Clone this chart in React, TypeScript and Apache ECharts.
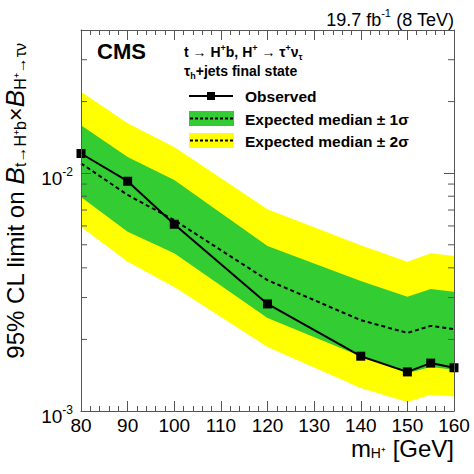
import React, { useEffect, useRef } from 'react';
import * as echarts from 'echarts';

const masses = [80, 90, 100, 120, 140, 150, 155, 160];
const observed = [0.0121, 0.00925, 0.0061, 0.00282, 0.0017, 0.00146, 0.00159, 0.00152];
const expected = [0.011, 0.0081, 0.00635, 0.00355, 0.00241, 0.00213, 0.00228, 0.00221];
const plus1 = [0.0159, 0.0117, 0.00935, 0.00494, 0.00352, 0.00302, 0.00326, 0.00317];
const minus1 = [0.00795, 0.00567, 0.00461, 0.00246, 0.0017, 0.00144, 0.00153, 0.00149];
const plus2 = [0.022, 0.0162, 0.0129, 0.00706, 0.00498, 0.00424, 0.00461, 0.00448];
const minus2 = [0.00595, 0.00424, 0.00332, 0.00186, 0.00125, 0.00109, 0.00117, 0.00115];
const yMinorTicks = [0.002, 0.003, 0.004, 0.005, 0.006, 0.007, 0.008, 0.009, 0.02, 0.03];

const FONT = '"Liberation Sans", Arial, Helvetica, sans-serif';
const GREEN = '#33cc33';
const YELLOW = '#ffff00';
const AXIS = '#555555';

function bandSeries(upper: number[], lower: number[], color: string, z: number) {
  return {
    type: 'custom',
    z,
    silent: true,
    clip: true,
    data: [[masses[0], upper[0]]],
    renderItem: (params: any, api: any) => {
      if (params.dataIndex !== 0) return null;
      const up = masses.map((m, i) => api.coord([m, upper[i]]));
      const lo = masses.map((m, i) => api.coord([m, lower[i]])).reverse();
      return { type: 'polygon', shape: { points: [...up, ...lo] }, style: { fill: color, stroke: null } };
    },
  };
}

export default function App() {
  const ref = useRef<HTMLDivElement>(null);
  useEffect(() => {
    if (!ref.current) return;
    const chart = echarts.init(ref.current, undefined, { renderer: 'svg' });
    const xAxisBase = {
      type: 'value',
      min: 80,
      max: 160,
      interval: 10,
      z: 10,
      axisLine: { show: true, onZero: false, lineStyle: { color: AXIS, width: 1 } },
      axisTick: { show: true, inside: true, length: 10, lineStyle: { color: AXIS } },
      minorTick: { show: true, splitNumber: 5, length: 5, lineStyle: { color: AXIS } },
      splitLine: { show: false },
      minorSplitLine: { show: false },
    };
    const yAxisBase = {
      type: 'log',
      logBase: 10,
      min: 0.001,
      max: 0.04,
      z: 10,
      axisLine: { show: true, onZero: false, lineStyle: { color: AXIS, width: 1 } },
      axisTick: { show: true, inside: true, length: 10, lineStyle: { color: AXIS } },
      splitLine: { show: false },
      minorTick: { show: false },
    };
    const option: any = {
      animation: false,
      backgroundColor: '#ffffff',
      grid: { left: 81, right: 20, top: 30, bottom: 63, containLabel: false },
      xAxis: [
        {
          ...xAxisBase,
          position: 'bottom',
          axisLabel: { show: true, fontSize: 19, lineHeight: 19, color: '#000', fontFamily: FONT, margin: 5 },
        },
        { ...xAxisBase, position: 'top', axisLabel: { show: false } },
      ],
      yAxis: [
        {
          ...yAxisBase,
          position: 'left',
          axisLabel: {
            show: true,
            showMaxLabel: false,
            margin: 8,
            padding: [8, 0, 0, 0],
            formatter: (v: number) => {
              const l = Math.log10(v);
              const e = Math.round(l);
              if (Math.abs(l - e) > 1e-6) return '';
              return `{b|10}{s|${e}}`;
            },
            rich: {
              b: { fontSize: 19, fontFamily: FONT, color: '#000', lineHeight: 22, verticalAlign: 'bottom' },
              s: { fontSize: 12, fontFamily: FONT, color: '#000', lineHeight: 12, verticalAlign: 'top' },
            },
          },
        },
        { ...yAxisBase, position: 'right', axisLabel: { show: false } },
      ],
      series: [
        bandSeries(plus2, minus2, YELLOW, 1),
        bandSeries(plus1, minus1, GREEN, 2),
        {
          type: 'line',
          z: 3,
          silent: true,
          symbol: 'none',
          data: masses.map((m, i) => [m, expected[i]]),
          lineStyle: { color: '#000', width: 2, type: [4, 3] },
        },
        {
          type: 'line',
          z: 4,
          silent: true,
          symbol: 'rect',
          symbolSize: 9,
          data: masses.map((m, i) => [m, observed[i]]),
          itemStyle: { color: '#000' },
          lineStyle: { color: '#000', width: 2 },
        },
        {
          type: 'custom',
          z: 11,
          silent: true,
          clip: false,
          data: [[80, 0.01]],
          renderItem: (params: any, api: any) => {
            if (params.dataIndex !== 0) return null;
            const cs = params.coordSys;
            const children: any[] = [];
            yMinorTicks.forEach((v) => {
              const y = api.coord([80, v])[1];
              children.push({ type: 'line', shape: { x1: cs.x, y1: y, x2: cs.x + 6, y2: y }, style: { stroke: AXIS, lineWidth: 1 } });
              children.push({ type: 'line', shape: { x1: cs.x + cs.width - 6, y1: y, x2: cs.x + cs.width, y2: y }, style: { stroke: AXIS, lineWidth: 1 } });
            });
            return { type: 'group', children };
          },
        },
      ],
      graphic: [
        {
          type: 'text',
          x: 454,
          y: 18,
          style: {
            text: '{a|19.7 fb}{p|-1}{a| (8 TeV)}',
            align: 'right',
            verticalAlign: 'middle',
            rich: {
              a: { fontSize: 18, fontFamily: FONT, fill: '#000', lineHeight: 22, verticalAlign: 'bottom' },
              p: { fontSize: 11, fontFamily: FONT, fill: '#000', lineHeight: 11, verticalAlign: 'top' },
            },
          },
        },
        {
          type: 'text',
          x: 97,
          y: 51,
          style: { text: 'CMS', fontSize: 22, fontWeight: 'bold', fontFamily: FONT, fill: '#000', align: 'left', verticalAlign: 'middle' },
        },
        {
          type: 'text',
          x: 184,
          y: 52,
          style: {
            text: '{a|t → H}{p|+}{a|b, H}{p|+}{a| → τ}{p|+}{a|ν}{s|τ}',
            align: 'left',
            verticalAlign: 'middle',
            rich: {
              a: { fontSize: 14, fontWeight: 'bold', fontFamily: FONT, fill: '#000', lineHeight: 18, verticalAlign: 'middle' },
              p: { fontSize: 9, fontWeight: 'bold', fontFamily: FONT, fill: '#000', lineHeight: 9, verticalAlign: 'top' },
              s: { fontSize: 9, fontWeight: 'bold', fontFamily: FONT, fill: '#000', lineHeight: 9, verticalAlign: 'bottom' },
            },
          },
        },
        {
          type: 'text',
          x: 184,
          y: 71,
          style: {
            text: '{a|τ}{s|h}{a|+jets final state}',
            align: 'left',
            verticalAlign: 'middle',
            rich: {
              a: { fontSize: 14, fontWeight: 'bold', fontFamily: FONT, fill: '#000', lineHeight: 18, verticalAlign: 'middle' },
              s: { fontSize: 9, fontWeight: 'bold', fontFamily: FONT, fill: '#000', lineHeight: 9, verticalAlign: 'bottom' },
            },
          },
        },
        // legend: observed
        { type: 'line', shape: { x1: 189, y1: 96, x2: 233, y2: 96 }, style: { stroke: '#000', lineWidth: 2 } },
        { type: 'rect', shape: { x: 207, y: 92, width: 8, height: 8 }, style: { fill: '#000' } },
        {
          type: 'text', x: 245, y: 96,
          style: { text: 'Observed', fontSize: 15.5, fontWeight: 'bold', fontFamily: FONT, fill: '#000', align: 'left', verticalAlign: 'middle' },
        },
        // legend: 1 sigma
        { type: 'rect', shape: { x: 189, y: 111, width: 45, height: 15 }, style: { fill: GREEN } },
        { type: 'line', shape: { x1: 190, y1: 118.5, x2: 233, y2: 118.5 }, style: { stroke: '#000', lineWidth: 2, lineDash: [3, 2] } },
        {
          type: 'text', x: 245, y: 119,
          style: { text: 'Expected median ± 1σ', fontSize: 15.5, fontWeight: 'bold', fontFamily: FONT, fill: '#000', align: 'left', verticalAlign: 'middle' },
        },
        // legend: 2 sigma
        { type: 'rect', shape: { x: 189, y: 133, width: 45, height: 15 }, style: { fill: YELLOW } },
        { type: 'line', shape: { x1: 190, y1: 140.5, x2: 233, y2: 140.5 }, style: { stroke: '#000', lineWidth: 2, lineDash: [3, 2] } },
        {
          type: 'text', x: 245, y: 141,
          style: { text: 'Expected median ± 2σ', fontSize: 15.5, fontWeight: 'bold', fontFamily: FONT, fill: '#000', align: 'left', verticalAlign: 'middle' },
        },
        // x axis title
        {
          type: 'text', x: 454, y: 448,
          style: {
            text: '{m|m}{s|H⁺}{a| [GeV]}',
            align: 'right',
            verticalAlign: 'middle',
            rich: {
              m: { fontSize: 24, fontFamily: FONT, fill: '#000', lineHeight: 24, verticalAlign: 'middle' },
              a: { fontSize: 24, fontFamily: FONT, fill: '#000', lineHeight: 24, verticalAlign: 'middle' },
              s: { fontSize: 14, fontFamily: FONT, fill: '#000', lineHeight: 14, verticalAlign: 'bottom' },
            },
          },
        },
        // y axis title
        {
          type: 'text', x: 15, y: 201, rotation: Math.PI / 2,
          style: {
            text: '{a|95% CL limit on }{B|B}{s|t→H⁺b}{a|×}{B|B}{s|H⁺→τν}',
            align: 'center',
            verticalAlign: 'middle',
            rich: {
              a: { fontSize: 24, fontFamily: FONT, fill: '#000', lineHeight: 26, verticalAlign: 'middle' },
              B: { fontSize: 26, fontStyle: 'italic', fontFamily: FONT, fill: '#000', lineHeight: 26, verticalAlign: 'middle' },
              s: { fontSize: 16, fontFamily: FONT, fill: '#000', lineHeight: 16, verticalAlign: 'bottom' },
            },
          },
        },
      ],
    };
    chart.setOption(option);
    return () => chart.dispose();
  }, []);
  return <div ref={ref} style={{ position: 'fixed', left: 0, top: 0, width: 474, height: 474, background: '#fff' }} />;
}
